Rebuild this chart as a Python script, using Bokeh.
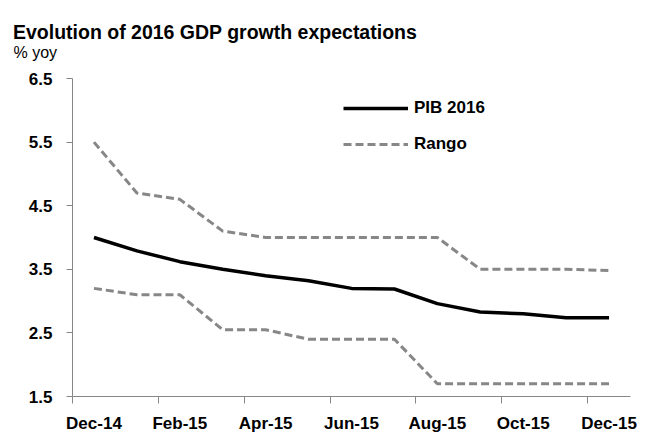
from bokeh.plotting import figure
from bokeh.models import FixedTicker, Legend, LegendItem, Label, Range1d
from bokeh.embed import file_html
from bokeh.resources import INLINE

# ---- data ----
months = ["Dec-14", "Jan-15", "Feb-15", "Mar-15", "Apr-15", "May-15", "Jun-15",
          "Jul-15", "Aug-15", "Sep-15", "Oct-15", "Nov-15", "Dec-15"]
pib_2016 = [4.00, 3.79, 3.62, 3.50, 3.40, 3.32, 3.20, 3.19, 2.96, 2.83, 2.80, 2.74, 2.74]
rango_high = [5.50, 4.70, 4.60, 4.10, 4.00, 4.00, 4.00, 4.00, 4.00, 3.50, 3.50, 3.50, 3.48]
rango_low = [3.20, 3.10, 3.10, 2.55, 2.55, 2.40, 2.40, 2.40, 1.70, 1.70, 1.70, 1.70, 1.70]
y_ticks = [1.5, 2.5, 3.5, 4.5, 5.5, 6.5]
title_text = "Evolution of 2016 GDP growth expectations"
unit_text = "% yoy"

FONT = "Liberation Sans"
GREY = "#878787"

x = list(range(len(months)))
label_idx = list(range(0, len(months), 2))
boundary_ticks = [i - 0.5 for i in label_idx]

p = figure(width=647, height=434, output_backend="svg", toolbar_location=None,
           x_range=Range1d(-0.5, len(months) - 0.5), y_range=Range1d(y_ticks[0], y_ticks[-1]),
           min_border_left=72, min_border_right=17, min_border_top=78, min_border_bottom=38)
p.frame_width = 558
p.frame_height = 318
p.outline_line_color = None
p.xgrid.visible = False
p.ygrid.visible = False
p.background_fill_color = "white"
p.border_fill_color = "white"

# y axis
ya = p.yaxis[0]
ya.ticker = FixedTicker(ticks=y_ticks)
ya.axis_line_color = GREY
ya.major_tick_line_color = GREY
ya.major_tick_out = 6
ya.major_tick_in = 0
ya.minor_tick_line_color = None
ya.major_label_standoff = 14
ya.major_label_text_font = FONT
ya.major_label_text_font_style = "bold"
ya.major_label_text_font_size = "17px"
ya.major_label_text_color = "black"

# x axis
xa = p.xaxis[0]
xa.ticker = FixedTicker(ticks=label_idx, minor_ticks=boundary_ticks)
xa.major_label_overrides = {i: months[i] for i in label_idx}
xa.axis_line_color = GREY
xa.major_tick_line_color = None
xa.major_tick_out = 0
xa.major_tick_in = 0
xa.minor_tick_line_color = GREY
xa.minor_tick_out = 7
xa.minor_tick_in = 0
xa.major_label_standoff = 10
xa.major_label_text_font = FONT
xa.major_label_text_font_style = "bold"
xa.major_label_text_font_size = "17px"
xa.major_label_text_color = "black"

# lines
r_pib = p.line(x, pib_2016, line_color="black", line_width=3.5, line_join="round")
r_hi = p.line(x, rango_high, line_color=GREY, line_width=3, line_dash="8 4", line_join="round")
r_lo = p.line(x, rango_low, line_color=GREY, line_width=3, line_dash="8 4", line_join="round")

legend = Legend(items=[LegendItem(label="PIB 2016", renderers=[r_pib]),
                       LegendItem(label="Rango", renderers=[r_hi])],
                location=(271, 242), glyph_width=65, glyph_height=20, label_height=20,
                label_standoff=6, spacing=16, padding=0, margin=0,
                border_line_color=None, background_fill_alpha=0,
                label_text_font=FONT, label_text_font_style="bold",
                label_text_font_size="17px", label_text_color="black")
p.add_layout(legend)

p.add_layout(Label(x=-59, y=26.5, x_units="screen", y_units="screen", text=unit_text,
                   text_font=FONT, text_font_size="16px", text_baseline="alphabetic",
                   text_color="black"), "above")
p.add_layout(Label(x=-59.5, y=30, x_units="screen", y_units="screen", text=title_text,
                   text_font=FONT, text_font_style="bold", text_font_size="19.5px",
                   text_baseline="alphabetic", text_color="black"), "above")

open("out.html", "w").write(file_html(p, INLINE))
